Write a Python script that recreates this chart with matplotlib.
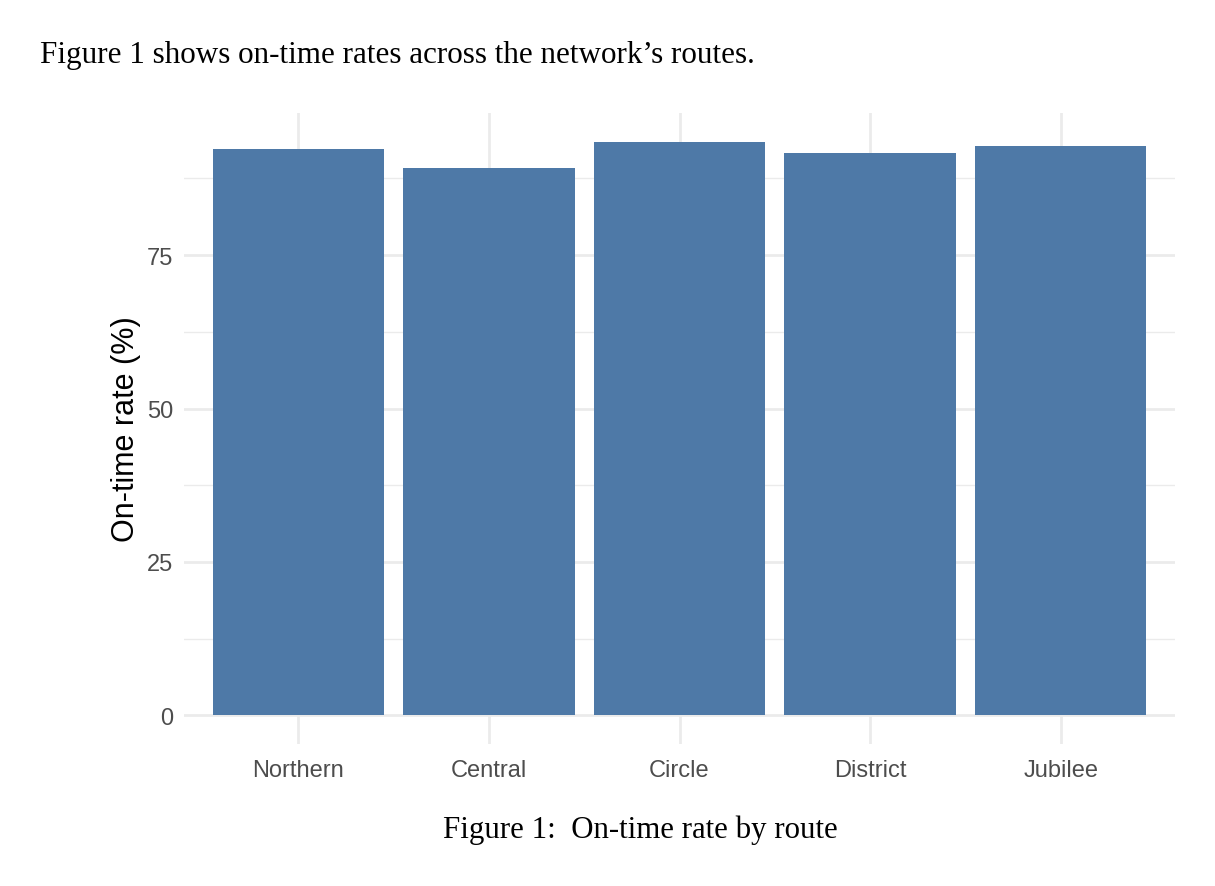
import matplotlib
matplotlib.use("Agg")
import matplotlib.pyplot as plt
import numpy as np

routes = ["Northern", "Central", "Circle", "District", "Jubilee"]
on_time = [92.3, 89.2, 93.5, 91.6, 92.8]
y_ticks = [0, 25, 50, 75]

fig = plt.figure(figsize=(12.15, 8.87), dpi=100)
ax = fig.add_axes([184 / 1215, 142 / 887, (1175 - 184) / 1215, (773 - 142) / 887])

x = np.arange(1, len(routes) + 1)
ax.bar(x, on_time, width=0.9, color="#4e79a7", zorder=2)

top = max(on_time)
ax.set_xlim(0.4, len(routes) + 0.6)
ax.set_ylim(-0.05 * top, top * 1.05)

ax.set_xticks(x)
ax.set_xticklabels(routes)
ax.set_yticks(y_ticks)
ax.set_yticks([12.5, 37.5, 62.5, 87.5], minor=True)

for s in ax.spines.values():
    s.set_visible(False)
ax.tick_params(axis="both", which="both", length=0, labelsize=17, labelcolor="#4d4d4d")
ax.tick_params(axis="x", pad=11)
ax.tick_params(axis="y", pad=8)
for lab in ax.get_xticklabels() + ax.get_yticklabels():
    lab.set_family("Liberation Sans")

ax.grid(True, which="major", color="#ebebeb", linewidth=2.0, zorder=0)
ax.grid(True, which="minor", axis="y", color="#ebebeb", linewidth=1.0, zorder=0)
ax.set_axisbelow(True)

ax.set_ylabel("On-time rate (%)", fontsize=22, family="Liberation Sans", color="black", labelpad=4)

fig.text(40 / 1215, 1 - 55 / 887, "Figure 1 shows on-time rates across the network\u2019s routes.",
         family="Liberation Serif", fontsize=22.4, va="center", ha="left")
fig.text(640 / 1215, 1 - 830 / 887, "Figure 1:  On-time rate by route",
         family="Liberation Serif", fontsize=22.2, va="center", ha="center")

fig.savefig("out.png", dpi=100)
